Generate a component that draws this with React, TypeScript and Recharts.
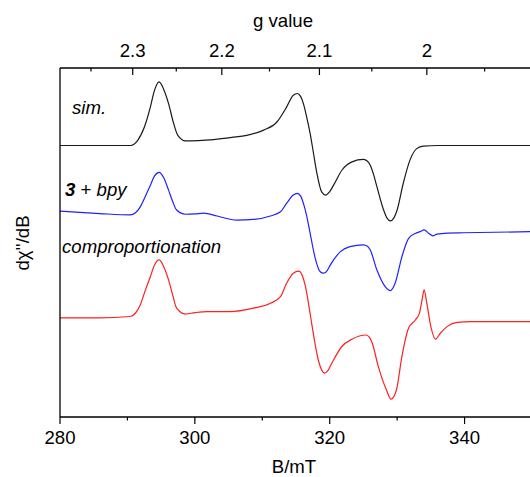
import React from 'react';
import { LineChart, Line, XAxis, YAxis } from 'recharts';

// Magnetic field (mT) and signal (arbitrary units, offset for stacking)
const simField = [280, 288, 290.5, 291.5, 292.5, 293.4, 294.0, 294.7, 295.4, 296.1, 296.8, 297.5, 298.6, 300.5, 302.8, 305.5, 307.7, 310.2, 312.2, 313.6, 314.6, 315.2, 315.7, 316.1, 316.6, 317.1, 317.6, 318.1, 318.8, 319.4, 320.0, 320.6, 321.8, 323.3, 325.0, 325.6, 326.0, 326.5, 327.0, 328.0, 328.5, 329.0, 329.5, 330.0, 330.9, 331.9, 332.9, 333.9, 336, 350];
const simSignal = [77.8, 77.8, 77.8, 79.2, 83.0, 88.8, 93.5, 96.0, 93.8, 89.8, 84.5, 80.6, 79.1, 79.2, 79.5, 80.1, 80.7, 82.2, 84.6, 88.8, 92.2, 92.7, 91.8, 89.8, 85.8, 81.2, 75.5, 69.8, 64.5, 63.6, 64.6, 66.5, 70.7, 73.1, 73.8, 73.3, 72.2, 69.5, 66.0, 59.3, 57.0, 56.2, 57.0, 59.3, 66.9, 73.6, 76.9, 77.6, 77.8, 77.8];

const bpyField = [280, 285.9, 290.4, 291.2, 291.9, 292.6, 293.4, 294.0, 294.7, 295.4, 296.1, 296.7, 297.3, 298.6, 300.0, 301.3, 303.3, 306.2, 308.7, 311.2, 312.7, 313.6, 314.6, 315.2, 315.7, 316.1, 316.6, 317.1, 317.8, 318.6, 319.1, 319.6, 320.1, 321.6, 323.0, 325.0, 325.6, 326.0, 327.0, 328.2, 329.0, 329.7, 330.7, 331.7, 332.7, 333.4, 334.0, 334.7, 335.3, 335.9, 337.5, 339.9, 350];
const bpySignal = [59.0, 58.3, 57.9, 58.5, 60.2, 63.0, 66.4, 69.0, 70.1, 68.5, 65.0, 61.8, 59.3, 58.1, 58.2, 58.4, 57.6, 56.4, 56.6, 57.6, 58.8, 61.2, 63.6, 64.1, 63.3, 61.2, 57.5, 52.6, 45.9, 41.6, 41.2, 41.9, 43.6, 47.4, 48.8, 49.3, 48.9, 47.9, 42.1, 37.4, 36.2, 38.3, 45.9, 51.2, 52.6, 53.1, 53.6, 52.6, 51.9, 52.4, 52.7, 52.8, 53.1];

const compField = [280, 285.9, 290.4, 291.2, 291.9, 292.6, 293.4, 294.0, 294.7, 295.4, 296.1, 296.7, 297.3, 298.6, 300.0, 301.8, 305.2, 308.7, 311.2, 312.7, 313.6, 314.6, 315.4, 316.0, 316.4, 316.9, 317.4, 318.3, 318.8, 319.2, 319.7, 320.3, 321.8, 323.3, 325.4, 325.9, 326.3, 327.2, 328.4, 329.1, 329.9, 330.7, 331.7, 332.7, 333.3, 333.7, 334.0, 334.4, 335.0, 335.7, 336.4, 337.4, 338.9, 341, 350];
const compSignal = [28.4, 28.4, 28.8, 29.8, 32.1, 36.0, 40.2, 43.5, 45.0, 43.0, 39.3, 35.0, 31.2, 29.5, 29.9, 30.2, 30.2, 31.2, 32.6, 34.5, 38.3, 41.2, 41.8, 40.2, 37.4, 32.0, 25.9, 16.4, 13.5, 12.6, 13.2, 15.4, 20.2, 22.3, 23.5, 22.8, 21.2, 14.5, 7.8, 5.1, 7.8, 17.3, 25.5, 27.8, 29.7, 33.6, 36.4, 32.6, 25.9, 22.3, 24.0, 25.9, 27.1, 27.3, 27.3];

const fieldMajorTicks = [280, 300, 320, 340];
const fieldMinorTicks = [290, 310, 330, 350];
const gMajorTicks = [2.3, 2.2, 2.1, 2.0];
const gMinorTicks = [2.35, 2.25, 2.15, 2.05, 1.95];
const FIELD_TIMES_G = 668.8; // B(mT) * g at the spectrometer frequency

const toRows = (f: number[], s: number[]) => f.map((B, i) => ({ B, v: s[i] }));
const simData = toRows(simField, simSignal);
const bpyData = toRows(bpyField, bpySignal);
const compData = toRows(compField, compSignal);

const bottomTicks = [...fieldMajorTicks, ...fieldMinorTicks].sort((a, b) => a - b);
const topTicks = [...gMajorTicks, ...gMinorTicks].map((g) => FIELD_TIMES_G / g).sort((a, b) => a - b);

const FONT = '"Liberation Sans", Arial, sans-serif';
const FS = 18.6;

const BottomTick = (props: any) => {
  const { x, y, payload } = props;
  const major = fieldMajorTicks.includes(payload.value);
  return (
    <g>
      <line x1={x} y1={y} x2={x} y2={y + (major ? 7 : 3.5)} stroke="#000" strokeWidth={1.2} />
      {major && (
        <text x={x} y={y + 26.5} textAnchor="middle" fontSize={FS} fill="#000" fontFamily={FONT}>
          {payload.value}
        </text>
      )}
    </g>
  );
};

const TopTick = (props: any) => {
  const { x, y, payload } = props;
  const g = Number((FIELD_TIMES_G / payload.value).toFixed(2));
  const major = gMajorTicks.some((m) => Math.abs(m - g) < 1e-6);
  return (
    <g>
      <line x1={x} y1={y} x2={x} y2={y + (major ? 7 : 3.5)} stroke="#000" strokeWidth={1.2} />
      {major && (
        <text x={x} y={y - 11.5} textAnchor="middle" fontSize={FS} fill="#000" fontFamily={FONT}>
          {String(g)}
        </text>
      )}
    </g>
  );
};

const TopTitle = () => (
  <text x={283} y={27} textAnchor="middle" fontSize={FS} fill="#000" fontFamily={FONT}>
    g value
  </text>
);

const BottomTitle = () => (
  <text x={294} y={473} textAnchor="middle" fontSize={FS} fill="#000" fontFamily={FONT}>
    B/mT
  </text>
);

const LeftTitleAndNotes = () => (
  <g fontFamily={FONT} fill="#000">
    <text
      x={22}
      y={243}
      transform="rotate(-90, 22, 243)"
      textAnchor="middle"
      dominantBaseline="central"
      fontSize={FS}
    >
      dχ''/dB
    </text>
    <text x={72} y={114} fontSize={FS} fontStyle="italic">
      sim.
    </text>
    <text x={65} y={196} fontSize={FS} style={{ whiteSpace: 'pre' }}>
      <tspan fontWeight="bold" fontStyle="italic">3</tspan>
      <tspan> + </tspan>
      <tspan fontStyle="italic">bpy</tspan>
    </text>
    <text x={62} y={253} fontSize={FS} fontStyle="italic">
      comproportionation
    </text>
  </g>
);

export default function App() {
  return (
    <>
      <style>{`html, body { margin: 0; padding: 0; background: #fff; }`}</style>
      <div
        style={{
          position: 'relative',
          width: 530,
          height: 477,
          overflow: 'hidden',
          background: '#fff',
          fontFamily: FONT,
        }}
      >
        <LineChart width={540} height={477} margin={{ top: 0, right: 8, bottom: 0, left: 0 }}>
          <XAxis
            xAxisId="b"
            dataKey="B"
            type="number"
            orientation="bottom"
            domain={[280, 350]}
            allowDataOverflow
            ticks={bottomTicks}
            interval={0}
            height={60}
            tickSize={0}
            tickMargin={0}
            tickLine={false}
            tick={<BottomTick />}
            axisLine={{ stroke: '#000', strokeWidth: 1.3 }}
            label={<BottomTitle />}
          />
          <XAxis
            xAxisId="t"
            dataKey="B"
            type="number"
            orientation="top"
            domain={[280, 350]}
            allowDataOverflow
            ticks={topTicks}
            interval={0}
            height={68}
            tickSize={0}
            tickMargin={0}
            tickLine={false}
            tick={<TopTick />}
            axisLine={{ stroke: '#000', strokeWidth: 1.3 }}
            label={<TopTitle />}
          />
          <YAxis
            type="number"
            domain={[0, 100]}
            allowDataOverflow
            width={60}
            tick={false}
            tickLine={false}
            axisLine={{ stroke: '#000', strokeWidth: 1.3 }}
            label={<LeftTitleAndNotes />}
          />
          <Line xAxisId="b" data={simData} dataKey="v" type="monotone" stroke="#1a1a1a" strokeWidth={1.2} dot={false} isAnimationActive={false} />
          <Line xAxisId="b" data={bpyData} dataKey="v" type="monotone" stroke="#2020ff" strokeWidth={1.2} dot={false} isAnimationActive={false} />
          <Line xAxisId="b" data={compData} dataKey="v" type="monotone" stroke="#ff2020" strokeWidth={1.2} dot={false} isAnimationActive={false} />
        </LineChart>
      </div>
    </>
  );
}
